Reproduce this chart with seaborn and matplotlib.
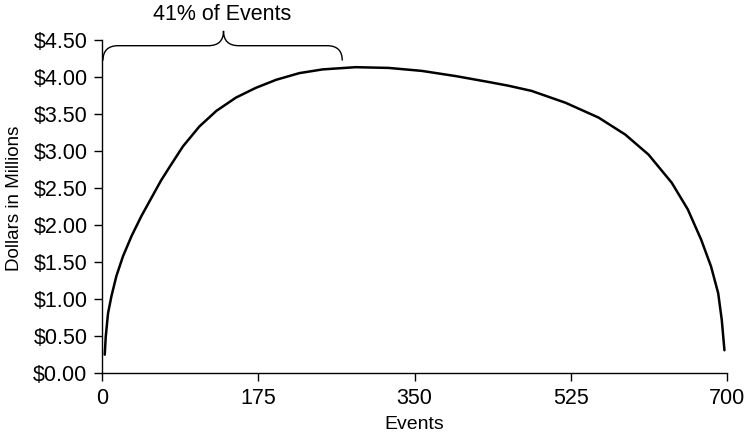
import numpy as np
import pandas as pd
import matplotlib
matplotlib.use("Agg")
import matplotlib.pyplot as plt
import seaborn as sns
from matplotlib.path import Path
from matplotlib.patches import PathPatch
from matplotlib.ticker import FuncFormatter

# Data
events = [3, 4.1, 6.7, 10.5, 16, 23.5, 33, 44, 55, 66, 76, 90.5, 109, 128,
          150, 172, 195, 221, 247, 284, 321, 358, 396, 433, 455, 481, 519,
          556, 586, 612, 638, 656, 671, 682, 690, 694, 697]
dollars = [0.25, 0.49, 0.81, 1.04, 1.31, 1.58, 1.85, 2.12, 2.36, 2.60, 2.79,
           3.06, 3.33, 3.54, 3.72, 3.85, 3.96, 4.05, 4.10, 4.13, 4.12, 4.08,
           4.01, 3.93, 3.88, 3.81, 3.65, 3.45, 3.22, 2.95, 2.57, 2.21, 1.80,
           1.44, 1.08, 0.72, 0.31]
x_ticks = [0, 175, 350, 525, 700]
y_ticks = [0, 0.5, 1.0, 1.5, 2.0, 2.5, 3.0, 3.5, 4.0, 4.5]
brace_label = "41% of Events"

df = pd.DataFrame({"Events": events, "Dollars": dollars})

# Style
sns.set_theme(style="ticks")
plt.rcParams["font.family"] = ["Liberation Sans", "DejaVu Sans"]
plt.rcParams["axes.linewidth"] = 1.0
plt.rcParams["axes.edgecolor"] = "black"

fig = plt.figure(figsize=(7.45, 4.37), dpi=100)
ax = fig.add_axes([0.137, 0.146, 0.839, 0.763])

sns.lineplot(data=df, x="Events", y="Dollars", color="black", lw=1.8, ax=ax)

ax.set_xlim(0, 700)
ax.set_ylim(0, 4.5)
ax.set_xticks(x_ticks)
ax.set_yticks(y_ticks)
ax.yaxis.set_major_formatter(FuncFormatter(lambda v, _: f"${v:.2f}"))
ax.tick_params(axis="both", direction="out", length=5.5, width=1.0,
               color="black", labelsize=15.5, labelcolor="black", pad=5)
ax.set_xlabel("Events", fontsize=14, color="black", labelpad=5)
ax.set_ylabel("Dollars in Millions", fontsize=13.5, color="black")
ax.yaxis.set_label_coords(-0.127, 0.524)
sns.despine(ax=ax)

# Curly brace above the first part of the curve
x0, x1, xm = 1, 269, 136
yl, yf, yt, r = 4.22, 4.42, 4.62, 17
verts = [(x0, yl), (x0, yf), (x0 + r, yf),
         (xm - r, yf), (xm, yf), (xm, yt),
         (xm, yf), (xm + r, yf),
         (x1 - r, yf), (x1, yf), (x1, yl)]
codes = [Path.MOVETO, Path.CURVE3, Path.CURVE3,
         Path.LINETO, Path.CURVE3, Path.CURVE3,
         Path.CURVE3, Path.CURVE3,
         Path.LINETO, Path.CURVE3, Path.CURVE3]
ax.add_patch(PathPatch(Path(verts, codes), fill=False, lw=1.0,
                       edgecolor="black", clip_on=False))
ax.text(134.5, 4.84, brace_label, ha="center", va="center",
        fontsize=15.5, color="black", clip_on=False)

fig.savefig("out.png", dpi=100)
